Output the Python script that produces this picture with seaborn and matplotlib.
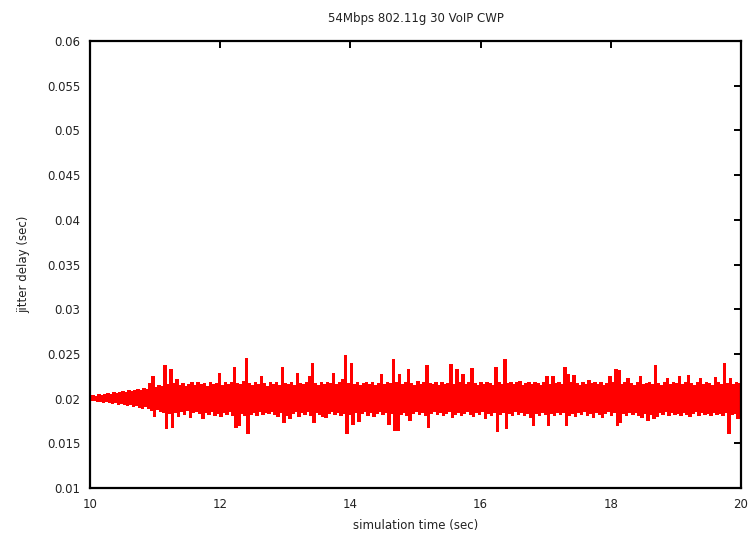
import numpy as np
import pandas as pd
import matplotlib
matplotlib.use("Agg")
import matplotlib.pyplot as plt
import seaborn as sns

# Per-packet jitter for the 30-call VoIP run, in milliseconds.
# Samples alternate: a peak value followed by a trough value.
jitter_peaks_ms = [
    20.2, 20.3, 20.2, 20.4, 20.3, 20.4, 20.5, 20.4, 20.6, 20.5,
    20.6, 20.7, 20.6, 20.8, 20.7, 20.9, 21.0, 20.8, 21.1, 21.0,
    21.6, 22.4, 21.2, 21.4, 21.3, 23.6, 21.5, 23.2, 21.6, 22.1,
    21.4, 21.6, 21.3, 21.5, 21.7, 21.4, 21.8, 21.5, 21.6, 21.3,
    21.7, 21.5, 21.6, 22.8, 21.4, 21.7, 21.5, 21.8, 23.4, 21.6,
    21.5, 21.9, 24.4, 21.6, 21.4, 21.7, 21.5, 22.4, 21.6, 21.3,
    21.8, 21.5, 21.7, 21.4, 23.4, 21.6, 21.5, 21.8, 21.4, 22.8,
    21.6, 21.5, 21.7, 22.4, 23.9, 21.6, 21.4, 21.8, 21.5, 21.7,
    21.6, 22.8, 21.5, 21.8, 22.1, 24.8, 21.6, 23.9, 21.5, 21.7,
    21.4, 21.6, 21.8, 21.5, 21.7, 21.4, 21.6, 22.6, 21.5, 21.7,
    21.6, 24.3, 21.8, 22.6, 21.5, 21.7, 23.2, 21.6, 21.4, 21.9,
    21.5, 21.7, 23.7, 21.6, 21.5, 21.8, 21.4, 21.7, 21.5, 21.6,
    23.8, 21.5, 23.2, 21.7, 22.6, 21.5, 21.8, 23.3, 21.6, 21.4,
    21.7, 21.5, 21.8, 21.6, 21.4, 23.4, 21.7, 21.5, 24.3, 21.6,
    21.8, 21.5, 21.7, 21.9, 21.4, 21.6, 21.7, 21.5, 21.8, 21.6,
    21.4, 21.7, 22.4, 21.5, 22.4, 21.6, 21.8, 21.5, 23.4, 22.6,
    21.7, 22.5, 21.6, 21.4, 21.7, 21.5, 22.0, 21.6, 21.8, 21.5,
    21.7, 21.4, 21.6, 22.4, 21.8, 23.2, 23.1, 21.5, 21.7, 22.2,
    21.6, 21.4, 21.7, 22.4, 21.5, 21.6, 21.8, 21.5, 23.6, 21.6,
    21.4, 21.7, 22.2, 21.5, 21.8, 21.6, 22.4, 21.5, 21.7, 22.5,
    21.6, 21.4, 21.8, 22.2, 21.5, 21.7, 21.6, 21.4, 22.3, 21.7,
    21.5, 23.9, 21.6, 22.2, 21.5, 21.7, 21.6,
]
jitter_troughs_ms = [
    19.8, 19.8, 19.7, 19.7, 19.6, 19.7, 19.6, 19.5, 19.6, 19.4,
    19.5, 19.4, 19.3, 19.4, 19.2, 19.3, 19.1, 19.0, 19.2, 18.9,
    18.7, 18.0, 18.8, 18.6, 18.5, 16.7, 18.4, 16.8, 18.5, 18.1,
    18.6, 18.3, 18.7, 17.9, 18.5, 18.6, 18.4, 17.8, 18.5, 18.3,
    18.6, 18.2, 18.4, 18.1, 18.5, 18.3, 18.6, 18.2, 16.8, 17.0,
    18.4, 18.2, 16.1, 18.3, 18.5, 18.2, 18.6, 18.3, 18.5, 18.4,
    18.6, 18.3, 18.1, 18.5, 17.4, 18.2, 17.8, 18.4, 18.6, 18.0,
    18.5, 18.3, 18.6, 18.2, 17.4, 18.5, 18.3, 18.0, 17.9, 18.4,
    18.6, 18.3, 18.5, 18.2, 18.4, 16.1, 18.3, 17.2, 18.5, 17.5,
    18.4, 18.6, 18.2, 18.5, 18.0, 18.4, 18.6, 18.3, 18.5, 17.2,
    18.4, 16.5, 16.5, 18.3, 18.5, 18.2, 17.6, 18.4, 18.6, 18.3,
    18.5, 18.2, 16.8, 18.4, 18.6, 18.3, 18.5, 18.2, 18.4, 18.6,
    17.9, 18.3, 18.5, 18.2, 18.4, 18.6, 18.3, 18.0, 18.5, 18.3,
    18.6, 17.8, 18.4, 18.2, 18.5, 16.4, 18.3, 18.5, 16.7, 18.4,
    18.2, 18.6, 18.3, 18.5, 18.2, 18.4, 17.9, 17.0, 18.4, 18.2,
    18.5, 18.3, 17.0, 18.4, 18.2, 18.5, 18.3, 18.5, 17.0, 18.2,
    18.4, 18.0, 18.5, 18.3, 18.6, 18.2, 18.4, 17.9, 18.5, 18.3,
    17.9, 18.4, 18.6, 18.2, 18.5, 17.0, 17.4, 18.4, 18.2, 18.5,
    18.3, 18.5, 18.2, 17.9, 18.4, 17.6, 18.3, 17.8, 18.0, 18.5,
    18.3, 18.6, 18.2, 18.5, 18.3, 18.4, 18.2, 18.5, 18.3, 18.1,
    18.4, 18.6, 18.2, 18.5, 18.3, 18.4, 18.2, 18.5, 18.3, 18.4,
    18.2, 18.5, 16.1, 18.3, 18.4, 17.8, 18.2,
]

t_start, t_end = 10.0, 20.0
x_ticks = [10, 12, 14, 16, 18, 20]
y_ticks = [0.01, 0.015, 0.02, 0.025, 0.03, 0.035, 0.04, 0.045, 0.05, 0.055, 0.06]
y_tick_labels = ["0.01", "0.015", "0.02", "0.025", "0.03", "0.035",
                 "0.04", "0.045", "0.05", "0.055", "0.06"]

# Interleave peaks and troughs into one packet sequence
jitter_ms = np.empty(len(jitter_peaks_ms) + len(jitter_troughs_ms))
jitter_ms[0::2] = jitter_peaks_ms
jitter_ms[1::2] = jitter_troughs_ms
times = np.linspace(t_start, t_end, len(jitter_ms))
df = pd.DataFrame({"time": times, "jitter": jitter_ms / 1000.0})

sns.set_style("white")
plt.rcParams["font.family"] = ["DejaVu Sans"]
# keep every packet vertex when rendering the dense trace
plt.rcParams["path.simplify"] = False

fig = plt.figure(figsize=(7.53, 5.38), dpi=100)
ax = fig.add_axes([90 / 753, 50 / 538, 651 / 753, 447 / 538])

# crisp, non-smoothed trace so the dense packet band renders solid
sns.lineplot(data=df, x="time", y="jitter", ax=ax, color="#ff0000",
             linewidth=1.2, estimator=None, sort=False,
             drawstyle="steps-mid", antialiased=False)

ax.set_xlim(t_start, t_end)
ax.set_ylim(0.01, 0.06)
ax.set_xticks(x_ticks)
ax.set_xticklabels([str(v) for v in x_ticks])
ax.set_yticks(y_ticks)
ax.set_yticklabels(y_tick_labels)

for side in ["left", "right", "top", "bottom"]:
    ax.spines[side].set_visible(True)
    ax.spines[side].set_color("black")
    ax.spines[side].set_linewidth(1.6)

ax.tick_params(axis="both", which="major", direction="in", length=5, width=1.4,
               color="black", labelsize=8.5, labelcolor="#222222",
               top=True, right=True, pad=7)

ax.set_xlabel("simulation time (sec)", fontsize=8.5, color="#222222", labelpad=6)
ax.set_ylabel("jitter delay (sec)", fontsize=8.5, color="#222222", labelpad=12)
ax.set_title("54Mbps 802.11g 30 VoIP CWP", fontsize=8.5, color="#222222", pad=14)

fig.savefig("out.png", dpi=100, facecolor="white")
